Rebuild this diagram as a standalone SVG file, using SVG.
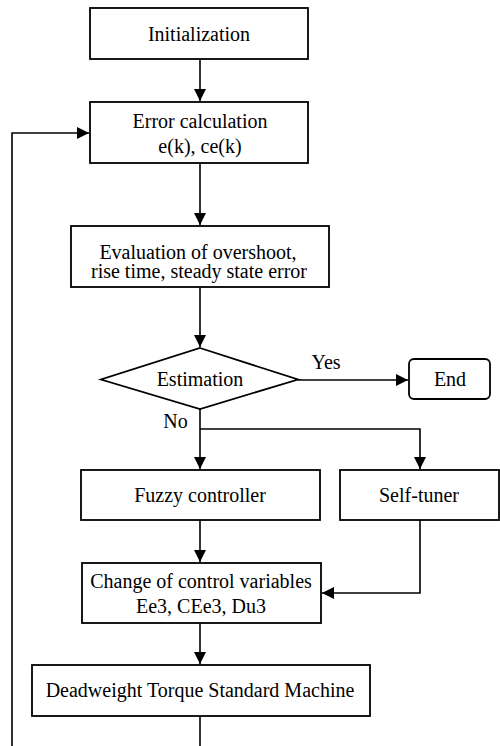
<svg xmlns="http://www.w3.org/2000/svg" width="500" height="746" viewBox="0 0 500 746">
<defs>
<marker id="ah" markerUnits="userSpaceOnUse" markerWidth="12" markerHeight="12" refX="12" refY="6" orient="auto">
<path d="M0,0 L12,6 L0,12 z" fill="#000"/>
</marker>
<style>
.n { fill: #fff; stroke: #000; stroke-width: 1.8; }
.c { fill: none; stroke: #000; stroke-width: 1.6; }
.a { marker-end: url(#ah); }
text { font-family: "Liberation Serif", "Times New Roman", serif; font-size: 20px; fill: #000; text-anchor: middle; }
</style>
</defs>
<rect width="500" height="746" style="fill:#fff;stroke:none"/>
<g id="connectors">
<path class="c a" d="M200,59 V101"/>
<path class="c a" d="M200,163 V225"/>
<path class="c a" d="M200,287 V347"/>
<path class="c a" d="M298,380 H408"/>
<path class="c a" d="M200,409 V469"/>
<path class="c a" d="M200,429 H420 V469"/>
<path class="c a" d="M200,520 V562"/>
<path class="c a" d="M420,520 V593 H322"/>
<path class="c a" d="M200,623 V664"/>
<path class="c" d="M200,716 V746"/>
<path class="c a" d="M12,746 V133 H89"/>
</g>
<g id="n-init">
<rect class="n" x="90" y="8" width="218" height="51"/>
<text x="199" y="40.5">Initialization</text>
</g>
<g id="n-error">
<rect class="n" x="90" y="102" width="218" height="61"/>
<text x="200" y="128">Error calculation</text>
<text x="200" y="153">e(k), ce(k)</text>
</g>
<g id="n-eval">
<rect class="n" x="71" y="226" width="258" height="61"/>
<text x="198" y="259">Evaluation of overshoot,</text>
<text x="199" y="277.5">rise time, steady state error</text>
</g>
<g id="n-estimation">
<polygon class="n" points="200,348 298,379.5 200,409 101,379.5"/>
<text x="200" y="386">Estimation</text>
</g>
<text x="326" y="369">Yes</text>
<text x="175.5" y="428">No</text>
<g id="n-end">
<rect class="n" x="409" y="359" width="81" height="40" rx="5" ry="5"/>
<text x="450" y="386">End</text>
</g>
<g id="n-fuzzy">
<rect class="n" x="81" y="470" width="239" height="50"/>
<text x="200" y="501.5">Fuzzy controller</text>
</g>
<g id="n-selftuner">
<rect class="n" x="340" y="470" width="159" height="50"/>
<text x="419" y="501.5">Self-tuner</text>
</g>
<g id="n-change">
<rect class="n" x="82" y="563" width="239" height="60"/>
<text x="201" y="588">Change of control variables</text>
<text x="201" y="612.5">Ee3, CEe3, Du3</text>
</g>
<g id="n-machine">
<rect class="n" x="32" y="665" width="338" height="51"/>
<text x="200" y="697">Deadweight Torque Standard Machine</text>
</g>
</svg>
